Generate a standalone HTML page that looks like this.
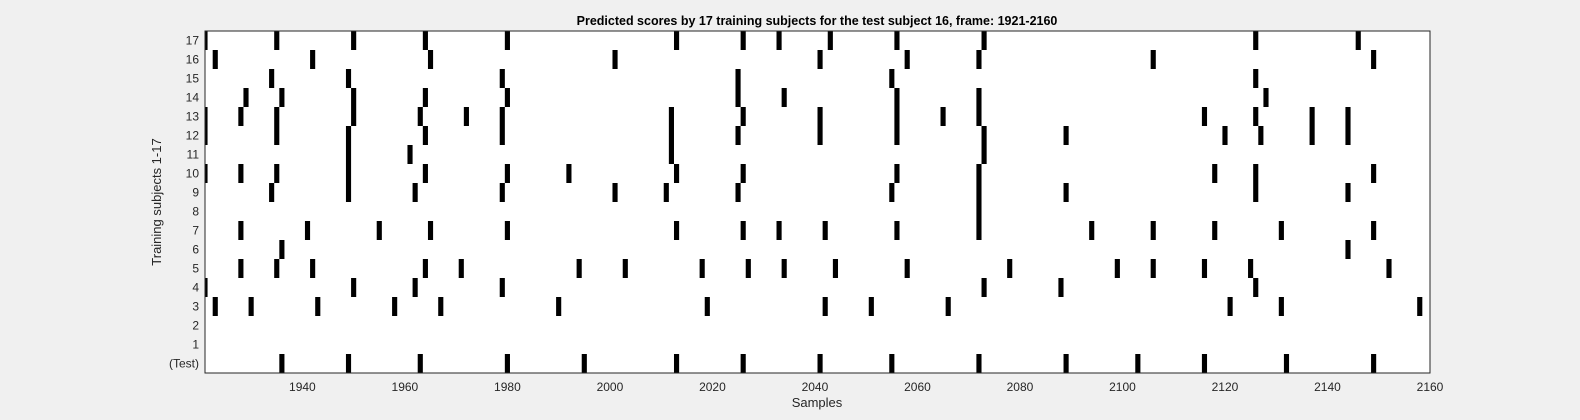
<!DOCTYPE html>
<html><head><meta charset="utf-8"><style>
html,body{margin:0;padding:0;background:#f0f0f0;}
svg{display:block;font-family:"Liberation Sans",Arial,sans-serif;}
</style></head><body>
<svg id="chart" width="1580" height="420" viewBox="0 0 1580 420" xmlns="http://www.w3.org/2000/svg">
<rect x="0" y="0" width="1580" height="420" fill="#f0f0f0"/>
<rect x="205" y="31" width="1225" height="342" fill="#ffffff"/>
<g id="marks"></g>
<g id="axes"></g>
<text x="817" y="25" text-anchor="middle" font-size="12.5" font-weight="bold" fill="#000">Predicted scores by 17 training subjects for the test subject 16, frame: 1921-2160</text>
<text x="817" y="407" text-anchor="middle" font-size="13" fill="#262626">Samples</text>
<text x="161" y="202" text-anchor="middle" font-size="13" fill="#262626" transform="rotate(-90 161 202)">Training subjects 1-17</text>
</svg>
<script>
const rowLabels = ["(Test)","1","2","3","4","5","6","7","8","9","10","11","12","13","14","15","16","17"];
const xTicks = [1940,1960,1980,2000,2020,2040,2060,2080,2100,2120,2140,2160];
const rowTest = [1936,1949,1963,1980,1995,2013,2026,2041,2055,2072,2089,2103,2116,2132,2149];
const row1 = [];
const row2 = [];
const row3 = [1923,1930,1943,1958,1967,1990,2019,2042,2051,2066,2121,2131,2158];
const row4 = [1921,1950,1962,1979,2073,2088,2126];
const row5 = [1928,1935,1942,1964,1971,1994,2003,2018,2027,2034,2044,2058,2078,2099,2106,2116,2125,2152];
const row6 = [1936,2144];
const row7 = [1928,1941,1955,1965,1980,2013,2026,2033,2042,2056,2072,2094,2106,2118,2131,2149];
const row8 = [2072];
const row9 = [1934,1949,1962,1979,2001,2011,2025,2055,2072,2089,2126,2144];
const row10 = [1921,1928,1935,1949,1964,1980,1992,2013,2026,2056,2072,2118,2126,2149];
const row11 = [1949,1961,2012,2073];
const row12 = [1921,1935,1949,1964,1979,2012,2025,2041,2056,2073,2089,2120,2127,2137,2144];
const row13 = [1921,1928,1935,1950,1963,1972,1979,2012,2026,2041,2056,2065,2072,2116,2126,2137,2144];
const row14 = [1929,1936,1950,1964,1980,2025,2034,2056,2072,2128];
const row15 = [1934,1949,1979,2025,2055,2126];
const row16 = [1923,1942,1965,2001,2041,2058,2072,2106,2149];
const row17 = [1921,1935,1950,1964,1980,2013,2026,2033,2043,2056,2073,2126,2146];
const rows = [rowTest,row1,row2,row3,row4,row5,row6,row7,row8,row9,row10,row11,row12,row13,row14,row15,row16,row17];

const NS = "http://www.w3.org/2000/svg";
const X0 = 205, X1 = 1430, Y0 = 31, Y1 = 373;
const xMin = 1921, xMax = 2160;
const nRows = rowLabels.length;
const rowH = (Y1 - Y0) / nRows;
function xScale(v){ return X0 + (v - xMin) * (X1 - X0) / (xMax - xMin); }
function rowTop(i){ return Y1 - (i + 1) * rowH; }

const marks = document.getElementById('marks');
rows.forEach((arr, i) => {
  arr.forEach(v => {
    let a = Math.max(X0, xScale(v - 0.5)), b = Math.min(X1, xScale(v + 0.5));
    const r = document.createElementNS(NS, 'rect');
    r.setAttribute('x', a.toFixed(2));
    r.setAttribute('y', rowTop(i).toFixed(2));
    r.setAttribute('width', (b - a).toFixed(2));
    r.setAttribute('height', rowH.toFixed(2));
    r.setAttribute('fill', '#000');
    
    
    marks.appendChild(r);
  });
});

const axes = document.getElementById('axes');
const box = document.createElementNS(NS, 'rect');
box.setAttribute('x', X0); box.setAttribute('y', Y0);
box.setAttribute('width', X1 - X0); box.setAttribute('height', Y1 - Y0);
box.setAttribute('fill', 'none'); box.setAttribute('stroke', '#262626'); box.setAttribute('stroke-width', '1');


axes.appendChild(box);

xTicks.forEach(t => {
  const x = xScale(t);
  const tx = document.createElementNS(NS, 'text');
  tx.setAttribute('x', x); tx.setAttribute('y', 391);
  tx.setAttribute('text-anchor', 'middle'); tx.setAttribute('font-size', '12'); tx.setAttribute('fill', '#262626');
  tx.textContent = t;
  
  
  axes.appendChild(tx);
});

rowLabels.forEach((lab, i) => {
  const y = rowTop(i) + rowH / 2;
  const tx = document.createElementNS(NS, 'text');
  tx.setAttribute('x', 199); tx.setAttribute('y', y + 4);
  tx.setAttribute('text-anchor', 'end'); tx.setAttribute('font-size', '12'); tx.setAttribute('fill', '#262626');
  tx.textContent = lab;
  
  
  axes.appendChild(tx);
});
</script>
</body></html>
